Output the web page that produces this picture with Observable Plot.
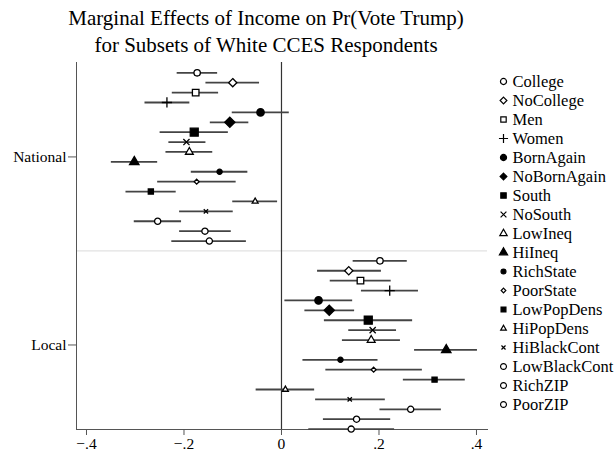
<!DOCTYPE html>
<html>
<head>
<meta charset="utf-8">
<script src="https://cdn.jsdelivr.net/npm/d3@7"></script>
<script src="https://cdn.jsdelivr.net/npm/@observablehq/plot@0.6"></script>
<style>
  html, body { margin: 0; padding: 0; background: #fff; }
  #fig { position: relative; width: 616px; height: 453px; font-family: "Liberation Serif", "DejaVu Serif", serif; background: #fff; }
  #title { position: absolute; top: 5px; left: 0; width: 532px; text-align: center; font-size: 21px; line-height: 27px; color: #000; z-index: 2; }
  #main { position: absolute; top: 0; left: 0; }
  #legend { position: absolute; top: 0; left: 490px; }
</style>
</head>
<body>
<div id="fig">
  <div id="title">Marginal Effects of Income on Pr(Vote Trump)<br>for Subsets of White CCES Respondents</div>
  <div id="main"></div>
  <div id="legend"></div>
</div>
<script>
// ---- data ----
const subsets = ["College","NoCollege","Men","Women","BornAgain","NoBornAgain","South","NoSouth","LowIneq","HiIneq","RichState","PoorState","LowPopDens","HiPopDens","HiBlackCont","LowBlackCont","RichZIP","PoorZIP"];
const levels = ["National", "Local"];

const nationalEst = [-0.173,-0.100,-0.176,-0.235,-0.043,-0.106,-0.179,-0.195,-0.189,-0.302,-0.127,-0.174,-0.268,-0.054,-0.155,-0.254,-0.157,-0.148];
const nationalLo  = [-0.214,-0.155,-0.224,-0.280,-0.101,-0.146,-0.249,-0.231,-0.237,-0.349,-0.185,-0.254,-0.319,-0.100,-0.209,-0.302,-0.209,-0.225];
const nationalHi  = [-0.131,-0.045,-0.129,-0.188, 0.016,-0.067,-0.109,-0.155,-0.141,-0.254,-0.069,-0.093,-0.216,-0.008,-0.099,-0.205,-0.103,-0.072];

const localEst = [0.202,0.138,0.162,0.222,0.076,0.098,0.178,0.187,0.184,0.338,0.121,0.189,0.314, 0.008,0.140,0.265,0.154,0.143];
const localLo  = [0.147,0.074,0.100,0.164,0.007,0.048,0.088,0.138,0.125,0.273,0.044,0.091,0.250,-0.052,0.070,0.202,0.086,0.056];
const localHi  = [0.258,0.205,0.225,0.281,0.146,0.150,0.269,0.236,0.244,0.402,0.198,0.289,0.377, 0.068,0.213,0.328,0.224,0.232];

const xTicks = [-0.4, -0.2, 0, 0.2, 0.4];

// ---- marker styles (not data) ----
const markerStyle = {
  College:      {symbol: "circle",   fill: "white", r: 3.2},
  NoCollege:    {symbol: "diamond2", fill: "white", r: 3.7},
  Men:          {symbol: "square",   fill: "white", r: 3.7},
  Women:        {symbol: "plus",     fill: "none",  r: 3.4},
  BornAgain:    {symbol: "circle",   fill: "black", r: 3.7},
  NoBornAgain:  {symbol: "diamond2", fill: "black", r: 4.6},
  South:        {symbol: "square",   fill: "black", r: 4.5},
  NoSouth:      {symbol: "times",    fill: "none",  r: 2.9},
  LowIneq:      {symbol: "triangle", fill: "white", r: 2.9},
  HiIneq:       {symbol: "triangle", fill: "black", r: 3.5},
  RichState:    {symbol: "circle",   fill: "black", r: 2.6},
  PoorState:    {symbol: "diamond2", fill: "white", r: 2.2},
  LowPopDens:   {symbol: "square",   fill: "black", r: 2.9},
  HiPopDens:    {symbol: "triangle", fill: "white", r: 2.2},
  HiBlackCont:  {symbol: "times",    fill: "none",  r: 2.1},
  LowBlackCont: {symbol: "circle",   fill: "white", r: 3.1},
  RichZIP:      {symbol: "circle",   fill: "white", r: 3.1},
  PoorZIP:      {symbol: "circle",   fill: "white", r: 3.1}
};

// ---- build table ----
const n = subsets.length;
const rows = [];
subsets.forEach((s, i) => rows.push({level: "National", name: s, row: i, est: nationalEst[i], lo: nationalLo[i], hi: nationalHi[i]}));
subsets.forEach((s, i) => rows.push({level: "Local", name: s, row: n + 1 + i, est: localEst[i], lo: localLo[i], hi: localHi[i]}));
const levelCenters = [ (n - 1) / 2, n + 1 + (n - 1) / 2 ];
const separatorRow = n;
const yMax = 2 * n;

const serif = "Liberation Serif, DejaVu Serif, serif";

const main = Plot.plot({
  width: 490,
  height: 453,
  marginTop: 62,
  marginBottom: 24,
  marginLeft: 76,
  marginRight: 3,
  style: {fontFamily: serif, background: "transparent", overflow: "visible"},
  x: {domain: [-0.4205, 0.4226]},
  y: {domain: [-1.04, yMax + 0.04], reverse: true},
  r: {type: "identity"},
  marks: [
    Plot.ruleY([separatorRow], {stroke: "#e2e2e2", strokeWidth: 1.2}),
    Plot.frame({anchor: "left", stroke: "#555", strokeWidth: 1}),
    Plot.frame({anchor: "bottom", stroke: "#555", strokeWidth: 1}),
    Plot.ruleX([0], {stroke: "#333", strokeWidth: 1.2}),
    Plot.axisX({ticks: xTicks, tickSize: 6, tickPadding: 2, fontSize: 15.5, stroke: "#555", fill: "black",
      tickFormat: d => d === 0 ? "0" : d3.format(".1f")(d).replace("0.", "."), label: null}),
    Plot.axisY({ticks: levelCenters, tickSize: 8, tickPadding: 2, fontSize: 15.5, stroke: "#555", fill: "black",
      tickFormat: (d, i) => levels[i], label: null}),
    Plot.ruleY(rows, {y: "row", x1: "lo", x2: "hi", stroke: "#444", strokeWidth: 1.8}),
    Plot.dot(rows, {
      x: "est", y: "row",
      symbol: d => markerStyle[d.name].symbol,
      r: d => markerStyle[d.name].r,
      fill: d => markerStyle[d.name].fill,
      stroke: "black", strokeWidth: 1.3
    })
  ]
});
document.getElementById("main").appendChild(main);

// ---- legend ----
const legendRows = subsets.map((s, i) => ({name: s, i}));
const legend = Plot.plot({
  width: 126,
  height: 453,
  margin: 0,
  style: {fontFamily: serif, background: "transparent", overflow: "visible"},
  x: {domain: [0, 1], range: [13, 113], axis: null},
  y: {domain: [0, n - 1], range: [81, 404], axis: null},
  r: {type: "identity"},
  marks: [
    Plot.dot(legendRows, {
      x: () => 0, y: "i",
      symbol: d => markerStyle[d.name].symbol,
      r: d => Math.min(markerStyle[d.name].r, 3.2) * 0.95,
      fill: d => markerStyle[d.name].fill,
      stroke: "black", strokeWidth: 1.2
    }),
    Plot.text(legendRows, {x: () => 0, y: "i", text: "name", dx: 9, textAnchor: "start", fontSize: 16.5, fill: "black"})
  ]
});
document.getElementById("legend").appendChild(legend);
</script>
</body>
</html>
